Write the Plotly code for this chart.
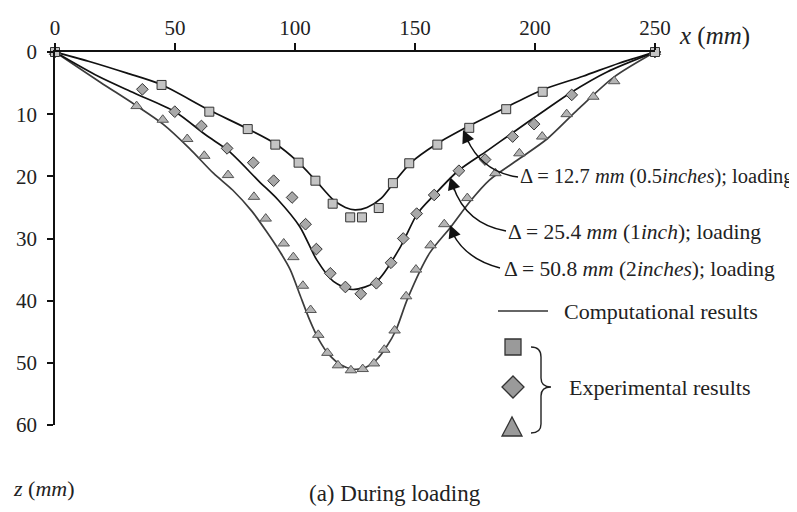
import plotly.graph_objects as go

# ---------------- data ----------------
# computational curves
comp_127_x = [0, 15, 30, 44, 64, 80, 92, 101, 108, 116, 121, 125, 130, 136, 141, 148, 159, 173, 188, 203, 220, 235, 250]
comp_127_z = [0, 1.6, 3.4, 5.2, 9.3, 12.3, 14.8, 17.6, 20.4, 23.8, 25.0, 25.4, 25.0, 23.5, 21.1, 17.9, 14.8, 11.8, 8.9, 6.1, 3.9, 1.8, 0]

comp_254_x = [0, 18, 33, 50, 63, 72, 85, 93, 102, 109, 116, 124, 134, 144, 151, 158, 168, 180, 191, 204, 215, 230, 250]
comp_254_z = [0, 3.9, 6.6, 9.6, 13.4, 15.8, 20.8, 23.8, 28.1, 33.4, 36.9, 38.2, 36.9, 31.3, 26.0, 23.0, 19.1, 15.9, 12.9, 9.4, 6.5, 3.2, 0]

comp_508_x = [0, 19, 33, 45, 56, 66, 74, 82, 88, 94, 98, 102, 106, 110, 114, 119, 124, 129, 134, 138, 142, 147, 156, 165, 173, 181, 193, 205, 218, 233, 250]
comp_508_z = [0, 4.9, 8.4, 11.6, 15.5, 19.5, 22.2, 25.6, 28.8, 32.3, 35.0, 39.0, 43.0, 46.3, 48.6, 50.3, 51.0, 50.8, 49.5, 47.5, 44.8, 39.6, 32.4, 28.1, 24.0, 20.6, 17.3, 14.0, 9.2, 4.0, 0]

# experimental points
exp_127_x = [0, 44.4, 64.3, 80.3, 91.8, 101.5, 108.5, 115.7, 123, 127.9, 134.9, 140.8, 147.6, 159.3, 172.6, 188, 203.2, 250]
exp_127_z = [0, 5.3, 9.6, 12.4, 14.9, 17.8, 20.7, 24.4, 26.6, 26.6, 25.1, 21.1, 17.9, 14.9, 12.2, 9.2, 6.4, 0]

exp_254_x = [0, 36.4, 49.9, 61, 71.7, 82.6, 91.1, 98.8, 104.4, 108.9, 114.7, 121, 127.4, 133.9, 140, 145.1, 150.7, 158, 168.3, 179.2, 190.7, 199.6, 215.3, 250]
exp_254_z = [0, 6.0, 9.6, 11.9, 15.5, 17.8, 20.7, 23.4, 27.7, 31.7, 35.6, 37.8, 38.9, 37.2, 33.9, 30.0, 26.0, 23.0, 19.1, 17.3, 13.6, 11.6, 6.9, 0]

exp_508_x = [0, 34, 44.9, 55.1, 62.2, 72.1, 82.9, 87.8, 95.3, 99.3, 103.3, 106.5, 109.7, 113.5, 117.9, 123.3, 128.2, 132.9, 137.2, 141.5, 146.3, 150.4, 156.5, 162.2, 171.8, 183.5, 193.5, 203, 213.2, 224.3, 233, 250]
exp_508_z = [0, 8.7, 10.9, 14.0, 16.7, 19.8, 23.3, 26.8, 30.8, 33.0, 37.6, 41.5, 45.5, 48.4, 50.4, 51.2, 51.0, 50.1, 47.9, 44.8, 39.3, 35.0, 31.1, 27.7, 23.5, 19.5, 16.3, 13.6, 10.0, 7.2, 4.7, 0]

x_ticks = [0, 50, 100, 150, 200, 250]
z_ticks = [0, 10, 20, 30, 40, 50, 60]

label_127 = "Δ = 12.7 <i>mm</i> (0.5<i>inches</i>); loading"
label_254 = "Δ = 25.4 <i>mm</i> (1<i>inch</i>); loading"
label_508 = "Δ = 50.8 <i>mm</i> (2<i>inches</i>); loading"

# ---------------- layout geometry ----------------
# the page body adds an 8px margin, so the figure is 8px smaller and positions are in page pixels
OFF = 8
W, H = 797 - OFF, 512 - OFF
PX0, PY0 = 55, 52          # page position of the plot origin
PW, PH = 600, 373
L, T = PX0 - OFF, PY0 - OFF
R, B = W - L - PW, H - T - PH
FONT = "Liberation Serif, Times New Roman, serif"
INK = "#222222"


def px(x, y):
    return (x - PX0) / PW, 1 - (y - PY0) / PH


fig = go.Figure()

line_styles = [
    (comp_508_x, comp_508_z, "#3c3c3c"),
    (comp_254_x, comp_254_z, "#111111"),
    (comp_127_x, comp_127_z, "#111111"),
]
for xs, zs, col in line_styles:
    fig.add_trace(go.Scatter(x=xs, y=zs, mode="lines",
                             line=dict(color=col, width=1.7, shape="spline", smoothing=0.8),
                             hoverinfo="skip", showlegend=False))

fig.add_trace(go.Scatter(x=exp_508_x, y=exp_508_z, mode="markers", cliponaxis=False,
                         marker=dict(symbol="triangle-up", size=10, color="#b4b4b4",
                                     line=dict(color="#555555", width=1)), showlegend=False))
fig.add_trace(go.Scatter(x=exp_254_x, y=exp_254_z, mode="markers", cliponaxis=False,
                         marker=dict(symbol="diamond", size=9, color="#a8a8a8",
                                     line=dict(color="#333333", width=1)), showlegend=False))
fig.add_trace(go.Scatter(x=exp_127_x, y=exp_127_z, mode="markers", cliponaxis=False,
                         marker=dict(symbol="square", size=9, color="#c4c4c4",
                                     line=dict(color="#333333", width=1)), showlegend=False))

shapes = []
annotations = []


def curve(p0, c, p1):
    a = px(*p0); b = px(*c); d = px(*p1)
    return f"M {a[0]},{a[1]} Q {b[0]},{b[1]} {d[0]},{d[1]}"


# curved arrows (body as path, head as short annotation arrow)
arrows = [
    ((518, 177), (482, 172), (467, 139), (463, 130)),
    ((506, 231), (466, 224), (453, 186), (450, 177)),
    ((500, 268), (466, 259), (453, 234), (450, 225)),
]
for tail, ctrl, near, head in arrows:
    shapes.append(dict(type="path", xref="paper", yref="paper", path=curve(tail, ctrl, near),
                       line=dict(color="#111111", width=1.5)))
    hx, hy = px(*head)
    annotations.append(dict(xref="paper", yref="paper", x=hx, y=hy, text="", showarrow=True,
                            ax=near[0] - head[0] + (ctrl[0] - near[0]) * 0.15,
                            ay=near[1] - head[1] + (ctrl[1] - near[1]) * 0.15,
                            arrowhead=2, arrowsize=1.7, arrowwidth=1.5, arrowcolor="#111111",
                            standoff=0))

for text, (x0, y0), fs in [(label_127, (518, 176), 20.5), (label_254, (506, 232), 21.5),
                           (label_508, (502, 269), 21.5)]:
    ax_, ay_ = px(x0, y0)
    annotations.append(dict(xref="paper", yref="paper", x=ax_, y=ay_, text=text, showarrow=False,
                            xanchor="left", yanchor="middle",
                            font=dict(family=FONT, size=fs, color=INK)))

# legend
a = px(498, 311); b = px(548, 311)
shapes.append(dict(type="line", xref="paper", yref="paper", x0=a[0], y0=a[1], x1=b[0], y1=b[1],
                   line=dict(color="#333333", width=1.3)))
t = px(562, 311)
annotations.append(dict(xref="paper", yref="paper", x=t[0], y=t[1], text="Computational results",
                        showarrow=False, xanchor="left", yanchor="middle",
                        font=dict(family=FONT, size=22, color=INK)))

s0 = px(505, 339); s1 = px(521, 355)
shapes.append(dict(type="rect", xref="paper", yref="paper", x0=s0[0], y0=s0[1], x1=s1[0], y1=s1[1],
                   fillcolor="#9a9a9a", line=dict(color="#333333", width=1.3)))


def poly(pts):
    cs = [px(*p) for p in pts]
    return "M " + " L ".join(f"{c[0]},{c[1]}" for c in cs) + " Z"


shapes.append(dict(type="path", xref="paper", yref="paper",
                   path=poly([(502, 387), (513, 376), (524, 387), (513, 398)]),
                   fillcolor="#9a9a9a", line=dict(color="#333333", width=1.3)))
shapes.append(dict(type="path", xref="paper", yref="paper",
                   path=poly([(502, 436), (522, 436), (512, 417)]),
                   fillcolor="#9a9a9a", line=dict(color="#333333", width=1.3)))

bp = [(531, 347), (541, 347), (541, 357), (541, 378), (541, 387), (551, 387), (541, 387), (541, 396),
      (541, 424), (541, 433), (531, 433)]
c = [px(*p) for p in bp]
brace = (f"M {c[0][0]},{c[0][1]} Q {c[1][0]},{c[1][1]} {c[2][0]},{c[2][1]} "
         f"L {c[3][0]},{c[3][1]} Q {c[4][0]},{c[4][1]} {c[5][0]},{c[5][1]} "
         f"Q {c[6][0]},{c[6][1]} {c[7][0]},{c[7][1]} "
         f"L {c[8][0]},{c[8][1]} Q {c[9][0]},{c[9][1]} {c[10][0]},{c[10][1]}")
shapes.append(dict(type="path", xref="paper", yref="paper", path=brace,
                   line=dict(color="#222222", width=1.4)))

t = px(567, 387)
annotations.append(dict(xref="paper", yref="paper", x=t[0], y=t[1], text="Experimental results",
                        showarrow=False, xanchor="left", yanchor="middle",
                        font=dict(family=FONT, size=22, color=INK)))

# axis titles and caption
t = px(677, 36)
annotations.append(dict(xref="paper", yref="paper", x=t[0], y=t[1], text="<i>x</i> (<i>mm</i>)",
                        showarrow=False, xanchor="left", yanchor="middle",
                        font=dict(family=FONT, size=25, color=INK)))
t = px(11, 489)
annotations.append(dict(xref="paper", yref="paper", x=t[0], y=t[1], text="<i>z</i> (<i>mm</i>)",
                        showarrow=False, xanchor="left", yanchor="middle",
                        font=dict(family=FONT, size=22, color=INK)))
t = px(395, 494)
annotations.append(dict(xref="paper", yref="paper", x=t[0], y=t[1], text="(a) During loading",
                        showarrow=False, xanchor="center", yanchor="middle",
                        font=dict(family=FONT, size=23, color=INK)))

fig.update_layout(
    width=W, height=H, margin=dict(l=L, r=R, t=T, b=B, autoexpand=False),
    paper_bgcolor="white", plot_bgcolor="white",
    shapes=shapes, annotations=annotations, showlegend=False,
    font=dict(family=FONT, color=INK),
    xaxis=dict(range=[0, 250], side="top", tickvals=x_ticks, ticks="outside", ticklen=7,
               tickwidth=1.5, tickcolor="#111111", showline=True, linecolor="#111111", linewidth=2,
               showgrid=False, zeroline=False, automargin=False,
               tickfont=dict(family=FONT, size=21, color=INK)),
    yaxis=dict(range=[60, 0], tickvals=z_ticks, ticks="outside", ticklen=6, tickwidth=1.5,
               tickcolor="#111111", showline=True, linecolor="#111111", linewidth=1.5,
               showgrid=False, zeroline=False, automargin=False, ticklabelstandoff=6,
               tickfont=dict(family=FONT, size=21, color=INK)),
)

fig.write_html("out.html")
